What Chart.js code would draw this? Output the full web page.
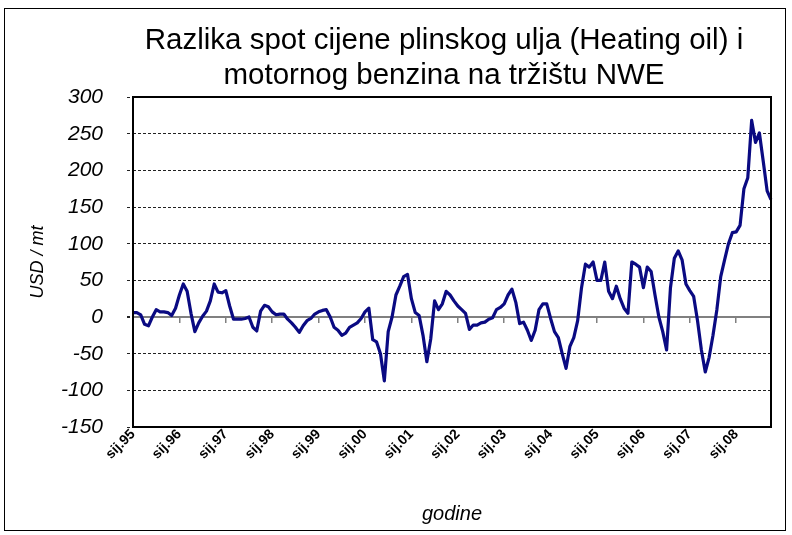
<!DOCTYPE html>
<html>
<head>
<meta charset="utf-8">
<script src="https://cdn.jsdelivr.net/npm/chart.js@4/dist/chart.umd.min.js"></script>
<style>
  html, body { margin: 0; padding: 0; background: #fff; }
  canvas { display: block; }
</style>
</head>
<body>
<canvas id="chart" width="792" height="535"></canvas>
<script>
// mjesečna razlika (USD/mt), sij.95 - lis.08
const spread = [
    6, 6, 3, -10, -12, 0, 10, 7, 7, 6, 2, 12,
    30, 45, 35, 5, -20, -8, 1, 8, 22, 45, 34, 33,
    36, 15, -3, -3, -3, -2, 0, -14, -19, 8, 16, 14,
    7, 3, 4, 4, -3, -8, -14, -21, -12, -5, -2, 4,
    7, 9, 10, 0, -14, -18, -25, -22, -14, -11, -8, -2,
    7, 12, -31, -34, -50, -87, -20, 0, 30, 42, 55, 58,
    25, 6, 2, -25, -61, -30, 22, 10, 18, 35, 30, 22,
    15, 10, 5, -17, -11, -11, -8, -7, -3, -1, 10, 13,
    18, 30, 38, 20, -9, -7, -18, -32, -18, 10, 18, 18,
    -2, -20, -28, -50, -70, -40, -28, -5, 40, 72, 68, 75,
    50, 50, 75, 35, 25, 42, 25, 12, 5, 75, 72, 68,
    40, 68, 62, 30, 0, -20, -45, 40, 80, 90, 78, 45,
    36, 28, -5, -45, -75, -55, -25, 10, 55, 78, 100, 115,
    116, 125, 175, 190, 268, 238, 251, 212, 172, 160
];

const yearLabels = ["sij.95", "sij.96", "sij.97", "sij.98", "sij.99", "sij.00", "sij.01",
    "sij.02", "sij.03", "sij.04", "sij.05", "sij.06", "sij.07", "sij.08"];

const titleLines = ["Razlika spot cijene plinskog ulja (Heating oil) i", "motornog benzina na tržištu NWE"];

const FONT = "'Liberation Sans', Arial, sans-serif";

const monthLabels = spread.map((v, i) => (i % 12 + 1) + "." + yearLabels[Math.floor(i / 12)].slice(4));

function janLabel(value, index) {
    return index % 12 === 0 ? yearLabels[index / 12] : null;
}

const frame = {
    id: "frame",
    beforeDraw(chart) {
        const ctx = chart.ctx;
        ctx.save();
        ctx.fillStyle = "#fff";
        ctx.fillRect(0, 0, chart.width, chart.height);
        ctx.strokeStyle = "#000";
        ctx.lineWidth = 1;
        ctx.strokeRect(4.5, 8.5, 781, 522);
        ctx.fillStyle = "#000";
        ctx.font = "29.5px " + FONT;
        ctx.textAlign = "center";
        ctx.textBaseline = "middle";
        ctx.fillText(titleLines[0], 444, 41);
        ctx.fillText(titleLines[1], 444, 76);
        ctx.restore();
    },
    afterDatasetsDraw(chart) {
        const a = chart.chartArea;
        const ctx = chart.ctx;
        ctx.save();
        ctx.strokeStyle = "#000";
        ctx.lineWidth = 2;
        ctx.strokeRect(a.left, a.top, a.right - a.left, a.bottom - a.top);
        ctx.restore();
    }
};

new Chart(document.getElementById("chart"), {
    type: "line",
    data: {
        labels: monthLabels,
        datasets: [{
            data: spread,
            borderColor: "#0a0a82",
            borderWidth: 3.2,
            borderJoinStyle: "round",
            pointRadius: 0,
            tension: 0,
            xAxisID: "x",
            yAxisID: "y"
        }]
    },
    options: {
        responsive: false,
        animation: false,
        layout: { padding: { top: 97, right: 21, left: 0, bottom: 0 } },
        plugins: { legend: { display: false }, tooltip: { enabled: false } },
        scales: {
            x: {
                type: "category",
                position: "bottom",
                offset: false,
                grid: { display: false },
                border: { display: false },
                ticks: {
                    autoSkip: false,
                    maxRotation: 45,
                    minRotation: 45,
                    padding: -9,
                    color: "#000",
                    font: { family: FONT, size: 14, weight: "bold" },
                    callback: janLabel
                },
                title: {
                    display: true,
                    text: "godine",
                    color: "#000",
                    font: { family: FONT, size: 20, style: "italic" },
                    padding: { bottom: 9 }
                },
                afterFit(scale) { scale.height = 108; }
            },
            x0: {
                type: "category",
                position: { y: 0 },
                offset: false,
                grid: { drawOnChartArea: false, drawTicks: true, tickLength: 5, color: "#808080", lineWidth: 1.5 },
                border: { display: true, color: "#808080", width: 2 },
                ticks: { display: false, autoSkip: false, callback: janLabel }
            },
            y: {
                min: -150,
                max: 300,
                ticks: {
                    stepSize: 50,
                    padding: 24,
                    color: "#000",
                    font: { family: FONT, size: 21, style: "italic" }
                },
                grid: {
                    color: c => c.tick && c.tick.value === 0 ? "#808080" : "#222",
                    lineWidth: c => c.tick && c.tick.value === 0 ? 2 : 1,
                    tickLength: 6,
                    tickColor: "#222",
                    tickBorderDash: [3, 2]
                },
                border: {
                    display: false,
                    dash: c => c.tick && c.tick.value !== 0 ? [3, 2] : []
                },
                title: {
                    display: true,
                    text: "USD / mt",
                    color: "#000",
                    font: { family: FONT, size: 18, style: "italic" },
                    padding: { top: 27 }
                },
                afterFit(scale) { scale.width = 133; }
            }
        }
    },
    plugins: [frame]
});
</script>
</body>
</html>
